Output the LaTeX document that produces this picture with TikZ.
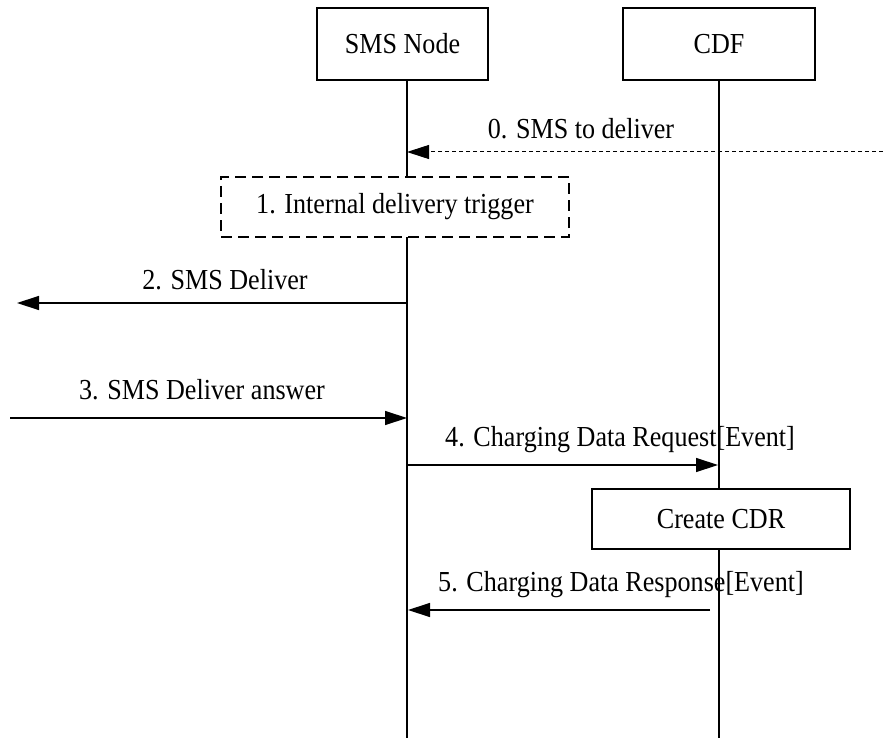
\documentclass[tikz,border=0pt]{standalone}
\usepackage{fontspec}
\setmainfont{Liberation Serif}[FakeStretch=0.9]
\usetikzlibrary{positioning,arrows.meta}

\begin{document}
\begin{tikzpicture}[%
        x=1pt,y=-1pt,
        font=\fontsize{29}{34}\selectfont,
        >={Triangle[length=22pt,width=14pt]},
        entity/.style={%
          rectangle,
          draw,
          line width=1.2pt,
          fill=white,
          inner sep=0pt,
          minimum height=72pt
        },
        trigger/.style={%
          rectangle,
          draw,
          line width=1.6pt,
          dash pattern=on 11pt off 6pt,
          fill=white,
          inner sep=0pt,
          minimum width=348pt,
          minimum height=60pt
        },
        lifeline/.style={line width=2pt},
        msg/.style={->,line width=1.3pt},
        extmsg/.style={->,line width=1pt,dash pattern=on 4pt off 3pt}
      ]
      \useasboundingbox (0,0) rectangle (883,738);
      % parties
      \node[entity,minimum width=171pt] (sms) at (402.5,44) {SMS Node};
      \node[entity,minimum width=192pt] (cdf) at (719,44) {CDF};
      \coordinate (smsbot) at (407,738);
      \coordinate (cdfbot) at (719,738);
      \draw[lifeline] (sms.south -| smsbot) -- (smsbot);
      \draw[lifeline] (cdf.south) -- (cdfbot);
      % 0
      \coordinate (ext0) at (883,152);
      \coordinate (sms0) at (407,152);
      \draw[extmsg] (ext0) -- (sms0);
      \node (l0) at (581,129) {0. SMS to deliver};
      % 1
      \node[trigger] (trig) at (395,207) {1. Internal delivery trigger};
      % 2
      \coordinate (sms2) at (407,303);
      \coordinate (ext2) at (17,303);
      \draw[msg] (sms2) -- (ext2);
      \node (l2) at (225,280) {2. SMS Deliver};
      % 3
      \coordinate (ext3) at (10,418);
      \coordinate (sms3) at (407,418);
      \draw[msg] (ext3) -- (sms3);
      \node (l3) at (202,390) {3. SMS Deliver answer};
      % 4
      \coordinate (sms4) at (407,465);
      \coordinate (cdf4) at (718,465);
      \draw[msg] (sms4) -- (cdf4);
      \node (l4) at (620,440) {4. Charging Data Request[Event]};
      % create cdr
      \node[entity,minimum width=258pt,minimum height=60pt] (cdr) at (721,519) {Create CDR};
      % 5
      \coordinate (cdf5) at (710,610);
      \coordinate (sms5) at (408,610);
      \draw[msg] (cdf5) -- (sms5);
      \node (l5) at (621,585) {5. Charging Data Response[Event]};
    \end{tikzpicture}
\end{document}
